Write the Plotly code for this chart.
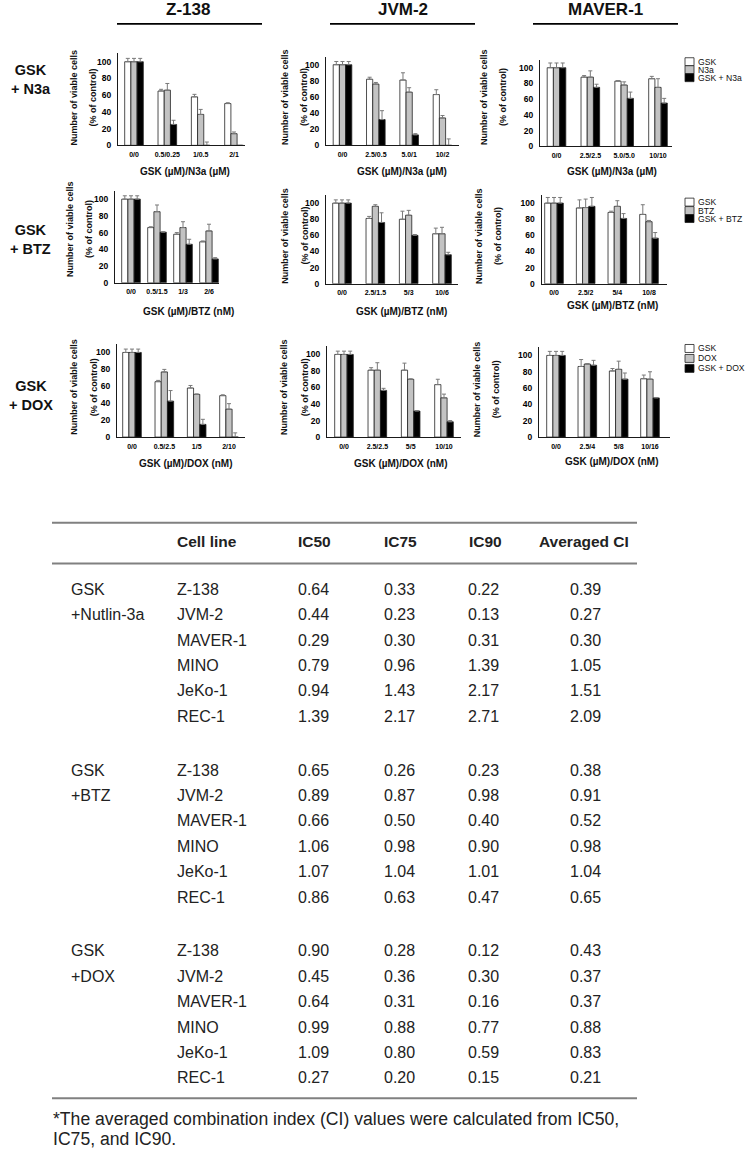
import plotly.graph_objects as go

# ---------------- bar chart data (% of control, mean and upper error) ----------------
z138_n3a_cats = ["0/0", "0.5/0.25", "1/0.5", "2/1"]
z138_n3a_gsk = [100, 65, 58, 50]
z138_n3a_gsk_err = [4, 2, 3, 1]
z138_n3a_drug = [100, 66, 37, 14]
z138_n3a_drug_err = [4, 8, 6, 2]
z138_n3a_combo = [100, 25, 0, 0]
z138_n3a_combo_err = [4, 5, 4, 0]

jvm2_n3a_cats = ["0/0", "2.5/0.5", "5.0/1", "10/2"]
jvm2_n3a_gsk = [100, 82, 81, 63]
jvm2_n3a_gsk_err = [4, 2.5, 9, 6]
jvm2_n3a_drug = [100, 76, 66, 34]
jvm2_n3a_drug_err = [4, 2, 5.5, 3]
jvm2_n3a_combo = [100, 32, 13, 0]
jvm2_n3a_combo_err = [4, 11, 1.5, 8]

maver1_n3a_cats = ["0/0", "2.5/2.5", "5.0/5.0", "10/10"]
maver1_n3a_gsk = [100, 88, 83, 86]
maver1_n3a_gsk_err = [6, 2, 0.5, 3]
maver1_n3a_drug = [100, 88, 78, 75]
maver1_n3a_drug_err = [6, 8, 4, 11]
maver1_n3a_combo = [100, 75, 61, 55]
maver1_n3a_combo_err = [6, 4, 8, 6]

z138_btz_cats = ["0/0", "0.5/1.5", "1/3", "2/6"]
z138_btz_gsk = [100, 66, 58, 49]
z138_btz_gsk_err = [4, 1, 2, 1]
z138_btz_drug = [100, 85, 66, 62]
z138_btz_drug_err = [4, 8, 7, 8]
z138_btz_combo = [100, 60.5, 46, 28.5]
z138_btz_combo_err = [4, 0.5, 6, 1.5]

jvm2_btz_cats = ["0/0", "2.5/1.5", "5/3", "10/6"]
jvm2_btz_gsk = [100, 81, 80, 62]
jvm2_btz_gsk_err = [4, 2.5, 10, 7]
jvm2_btz_drug = [100, 96, 85, 62]
jvm2_btz_drug_err = [4, 2, 6, 8]
jvm2_btz_combo = [100, 76, 60, 36]
jvm2_btz_combo_err = [4, 12, 1, 3]

maver1_btz_cats = ["0/0", "2.5/2", "5/4", "10/8"]
maver1_btz_gsk = [100, 94, 88.5, 86]
maver1_btz_gsk_err = [7, 10, 1.5, 12]
maver1_btz_drug = [100, 94.5, 96, 77]
maver1_btz_drug_err = [7, 10.5, 7, 1.5]
maver1_btz_combo = [100, 96, 81, 56.5]
maver1_btz_combo_err = [7, 11, 6, 7]

z138_dox_cats = ["0/0", "0.5/2.5", "1/5", "2/10"]
z138_dox_gsk = [100, 65.5, 58, 49]
z138_dox_gsk_err = [4, 1.5, 3, 1]
z138_dox_drug = [100, 77, 50.5, 33]
z138_dox_drug_err = [4, 3, 0.5, 6.5]
z138_dox_combo = [100, 42.5, 15, 0]
z138_dox_combo_err = [4, 12.5, 6, 5]

jvm2_dox_cats = ["0/0", "2.5/2.5", "5/5", "10/10"]
jvm2_dox_gsk = [100, 81, 81, 63.5]
jvm2_dox_gsk_err = [4, 3, 8.5, 6.5]
jvm2_dox_drug = [100, 81, 70, 47.5]
jvm2_dox_drug_err = [4, 9, 0.5, 4.5]
jvm2_dox_combo = [100, 56.5, 31.5, 18.5]
jvm2_dox_combo_err = [4, 2.5, 0.5, 1.5]

maver1_dox_cats = ["0/0", "2.5/4", "5/8", "10/16"]
maver1_dox_gsk = [100, 86.5, 81, 71.5]
maver1_dox_gsk_err = [5, 8.5, 3, 4.5]
maver1_dox_drug = [100, 89.5, 83, 71]
maver1_dox_drug_err = [5, 0.5, 10, 9]
maver1_dox_combo = [100, 88, 71, 48]
maver1_dox_combo_err = [5, 6, 7.5, 0.5]

col_titles = ["Z-138", "JVM-2", "MAVER-1"]
row_titles = ["GSK<br>+ N3a", "GSK<br>+ BTZ", "GSK<br>+ DOX"]
legend_names = [["GSK", "N3a", "GSK + N3a"], ["GSK", "BTZ", "GSK + BTZ"], ["GSK", "DOX", "GSK + DOX"]]
x_titles = ["GSK (µM)/N3a (µM)", "GSK (µM)/BTZ (nM)", "GSK (µM)/DOX (nM)"]
y_title_1 = "Number of viable cells"
y_title_2 = "(% of control)"
y_ticks = [0, 20, 40, 60, 80, 100]

# ---------------- table data ----------------
table_header = ["Cell line", "IC50", "IC75", "IC90", "Averaged CI"]
table_groups = [["GSK", "+Nutlin-3a"], ["GSK", "+BTZ"], ["GSK", "+DOX"]]
cell_lines = ["Z-138", "JVM-2", "MAVER-1", "MINO", "JeKo-1", "REC-1"]
n3a_ic50 = [0.64, 0.44, 0.29, 0.79, 0.94, 1.39]
n3a_ic75 = [0.33, 0.23, 0.30, 0.96, 1.43, 2.17]
n3a_ic90 = [0.22, 0.13, 0.31, 1.39, 2.17, 2.71]
n3a_ci = [0.39, 0.27, 0.30, 1.05, 1.51, 2.09]
btz_ic50 = [0.65, 0.89, 0.66, 1.06, 1.07, 0.86]
btz_ic75 = [0.26, 0.87, 0.50, 0.98, 1.04, 0.63]
btz_ic90 = [0.23, 0.98, 0.40, 0.90, 1.01, 0.47]
btz_ci = [0.38, 0.91, 0.52, 0.98, 1.04, 0.65]
dox_ic50 = [0.90, 0.45, 0.64, 0.99, 1.09, 0.27]
dox_ic75 = [0.28, 0.36, 0.31, 0.88, 0.80, 0.20]
dox_ic90 = [0.12, 0.30, 0.16, 0.77, 0.59, 0.15]
dox_ci = [0.43, 0.37, 0.37, 0.88, 0.83, 0.21]
footnote_lines = ["*The averaged combination index (CI) values were calculated from IC50,",
                  "IC75, and IC90."]

# ---------------- figure ----------------
W, H = 752, 1153
FONT = "Liberation Sans, Arial, Helvetica, sans-serif"


def X(px):
    return px / W


def Y(py):
    return 1 - py / H


panels = [
    (z138_n3a_cats, [z138_n3a_gsk, z138_n3a_drug, z138_n3a_combo],
     [z138_n3a_gsk_err, z138_n3a_drug_err, z138_n3a_combo_err]),
    (jvm2_n3a_cats, [jvm2_n3a_gsk, jvm2_n3a_drug, jvm2_n3a_combo],
     [jvm2_n3a_gsk_err, jvm2_n3a_drug_err, jvm2_n3a_combo_err]),
    (maver1_n3a_cats, [maver1_n3a_gsk, maver1_n3a_drug, maver1_n3a_combo],
     [maver1_n3a_gsk_err, maver1_n3a_drug_err, maver1_n3a_combo_err]),
    (z138_btz_cats, [z138_btz_gsk, z138_btz_drug, z138_btz_combo],
     [z138_btz_gsk_err, z138_btz_drug_err, z138_btz_combo_err]),
    (jvm2_btz_cats, [jvm2_btz_gsk, jvm2_btz_drug, jvm2_btz_combo],
     [jvm2_btz_gsk_err, jvm2_btz_drug_err, jvm2_btz_combo_err]),
    (maver1_btz_cats, [maver1_btz_gsk, maver1_btz_drug, maver1_btz_combo],
     [maver1_btz_gsk_err, maver1_btz_drug_err, maver1_btz_combo_err]),
    (z138_dox_cats, [z138_dox_gsk, z138_dox_drug, z138_dox_combo],
     [z138_dox_gsk_err, z138_dox_drug_err, z138_dox_combo_err]),
    (jvm2_dox_cats, [jvm2_dox_gsk, jvm2_dox_drug, jvm2_dox_combo],
     [jvm2_dox_gsk_err, jvm2_dox_drug_err, jvm2_dox_combo_err]),
    (maver1_dox_cats, [maver1_dox_gsk, maver1_dox_drug, maver1_dox_combo],
     [maver1_dox_gsk_err, maver1_dox_drug_err, maver1_dox_combo_err]),
]

# panel geometry in pixels: left, right, first group centre, last group centre, zero line, px per unit
geom = [
    (118, 245, 134, 234, 146, 0.84),
    (326, 459, 342.5, 442.5, 146, 0.81),
    (540, 672, 556.5, 658, 147, 0.79),
    (115, 219, 131, 209, 284, 0.84),
    (326, 458, 342, 442, 285, 0.81),
    (541.5, 667, 554, 649, 285, 0.81),
    (117, 245, 132, 229, 439, 0.85),
    (327, 461, 344, 444, 439, 0.83),
    (539, 670, 556, 650, 439, 0.82),
]

fills = ["#ffffff", "#c3c3c3", "#000000"]
fig = go.Figure()
layout_axes = {}
for k, ((cats, vals, errs), (left, right, c0, c3, zero, scale)) in enumerate(zip(panels, geom), start=1):
    s = (c3 - c0) / 3.0
    bw = 6.2 / s
    xr = "x" if k == 1 else f"x{k}"
    yr = "y" if k == 1 else f"y{k}"
    for j in range(3):
        fig.add_trace(go.Bar(
            x=cats, y=vals[j], xaxis=xr, yaxis=yr,
            width=bw, offset=(j - 1.5) * bw,
            marker=dict(color=fills[j], line=dict(color="#222222", width=0.8)),
            error_y=dict(type="data", array=errs[j], arrayminus=[0] * len(errs[j]),
                         symmetric=False, color="#7a7a7a", thickness=1, width=2),
            showlegend=False, hoverinfo="skip"))
    layout_axes["xaxis" if k == 1 else f"xaxis{k}"] = dict(
        domain=[X(left), X(right)], anchor=yr, type="category",
        range=[-(c0 - left) / s, 3 + (right - c3) / s],
        showline=True, linecolor="#1a1a1a", linewidth=1.3, ticks="",
        showgrid=False, zeroline=False, fixedrange=True,
        tickfont=dict(family=FONT, size=7, color="#000000", weight="bold"),
        ticklabelstandoff=2)
    layout_axes["yaxis" if k == 1 else f"yaxis{k}"] = dict(
        domain=[Y(zero), Y(zero - 110 * scale)], anchor=xr, range=[0, 110],
        showline=True, linecolor="#1a1a1a", linewidth=1.3, ticks="",
        tickvals=y_ticks, showgrid=False, zeroline=False, fixedrange=True,
        tickfont=dict(family=FONT, size=8.5, color="#000000", weight="bold"),
        ticklabelstandoff=4)

annotations = []
shapes = []


def txt(x, y, text, size, bold=False, xanchor="center", angle=0, color="#111111"):
    annotations.append(dict(
        x=X(x), y=Y(y), xref="paper", yref="paper", text=(f"<b>{text}</b>" if bold else text),
        showarrow=False, xanchor=xanchor, yanchor="middle", textangle=angle, borderpad=0,
        font=dict(family=FONT, size=size, color=color)))


def hline(x0, x1, y, color, width):
    shapes.append(dict(type="line", xref="paper", yref="paper",
                       x0=X(x0), x1=X(x1), y0=Y(y), y1=Y(y),
                       line=dict(color=color, width=width)))


# column titles with underline
col_centres = [188, 403, 605]
col_lines = [(117, 262), (330, 475), (533, 678)]
for t, cx, (l0, l1) in zip(col_titles, col_centres, col_lines):
    txt(cx, 10, t, 17, bold=True)
    hline(l0, l1, 24, "#000000", 1.6)

# row titles
row_title_y = [80, 241, 397]
for t, ry in zip(row_titles, row_title_y):
    txt(31, ry, t, 14.5, bold=True)

# y axis titles (two rotated lines) and x axis titles
ytitle_x = [[(74, 93), (284.5, 303.5), (483.5, 502.5)],
            [(70, 89), (284.7, 304.5), (479, 498)],
            [(74.5, 94), (284.7, 305), (477, 496)]]
ytitle_y = [[98, 98, 98], [230, 237, 237], [389, 389, 391]]
xtitle_pos = [[(185, 172), (402, 172), (612, 172)],
              [(188, 313), (402, 313), (612.5, 307)],
              [(186, 466), (401, 466), (612, 464)]]
for r in range(3):
    for c in range(3):
        (ax1, ax2) = ytitle_x[r][c]
        txt(ax1, ytitle_y[r][c], y_title_1, 9, bold=True, angle=-90)
        txt(ax2, ytitle_y[r][c], y_title_2, 9, bold=True, angle=-90)
        tx, ty = xtitle_pos[r][c]
        txt(tx, ty, x_titles[r], 10, bold=True)

# legends (drawn manually next to the third column)
legend_rows = [[62, 70, 78], [203, 211.5, 219.5], [350, 360, 370]]
for names, ys in zip(legend_names, legend_rows):
    for name, fill, ly in zip(names, fills, ys):
        shapes.append(dict(type="rect", xref="paper", yref="paper",
                           x0=X(685), x1=X(694), y0=Y(ly + 4), y1=Y(ly - 4),
                           fillcolor=fill, line=dict(color="#222222", width=0.8)))
        txt(696.5, ly, name, 8.6, xanchor="left")

# ---------------- table ----------------
TC = "#222222"
hline(52, 637, 525, "#808080", 2)
hline(52, 637, 566, "#808080", 2)
hline(52, 637, 1103, "#808080", 2)
header_x = [176, 314, 400, 485, 584]
for i, h in enumerate(table_header):
    txt(header_x[i], 544, h, 15.5, bold=True, xanchor="left" if i == 0 else "center", color=TC)

blocks = [(n3a_ic50, n3a_ic75, n3a_ic90, n3a_ci),
          (btz_ic50, btz_ic75, btz_ic90, btz_ci),
          (dox_ic50, dox_ic75, dox_ic90, dox_ci)]
value_x = [313, 399, 484, 585]
for b, (grp, cols) in enumerate(zip(table_groups, blocks)):
    y0 = 592 + 181.5 * b
    txt(70, y0, grp[0], 16, xanchor="left", color=TC)
    txt(70, y0 + 25.5, grp[1], 16, xanchor="left", color=TC)
    for i, cl in enumerate(cell_lines):
        yy = y0 + 25.5 * i
        txt(176, yy, cl, 16, xanchor="left", color=TC)
        for vx, col in zip(value_x, cols):
            txt(vx, yy, f"{col[i]:.2f}", 16, color=TC)

txt(52, 1124, footnote_lines[0], 17.6, xanchor="left", color=TC)
txt(52, 1144, footnote_lines[1], 17.6, xanchor="left", color=TC)

fig.update_layout(
    width=W, height=H, margin=dict(l=0, r=0, t=0, b=0),
    paper_bgcolor="white", plot_bgcolor="rgba(0,0,0,0)",
    barmode="overlay", showlegend=False,
    font=dict(family=FONT, color="#111111"),
    annotations=annotations, shapes=shapes, **layout_axes)

fig.write_html("out.html", config={"displayModeBar": False},
               post_script="document.body.style.margin='0';document.body.style.padding='0';"
                           "document.body.style.overflow='hidden';")
